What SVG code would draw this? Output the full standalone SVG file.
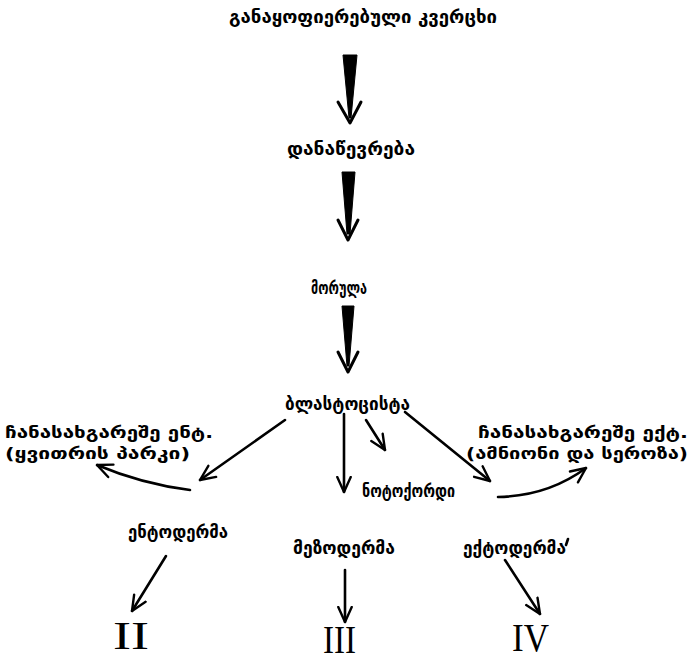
<svg xmlns="http://www.w3.org/2000/svg" width="693" height="663" viewBox="0 0 693 663">
<defs>
<style>
.t{font-family:"DejaVu Sans","Noto Sans",sans-serif;font-weight:bold;font-size:17px;fill:#000}
.s{font-size:16px}
.r{font-family:"Liberation Serif","Times New Roman",serif;font-size:40px;fill:#000}
.c{fill:none;stroke:#000;stroke-width:2.6;stroke-linecap:round}
.w{fill:#000;stroke:#000;stroke-width:1}
.v{fill:none;stroke:#000;stroke-width:3;stroke-linecap:round;stroke-linejoin:round}
</style>
<marker id="b" viewBox="0 0 12 12" refX="11" refY="6" markerWidth="18" markerHeight="18" orient="auto" markerUnits="userSpaceOnUse">
<path d="M1,1.5 L11,6 L1,10.5" fill="none" stroke="#000" stroke-width="1.6" stroke-linecap="round" stroke-linejoin="round"/>
</marker>
</defs>
<rect width="693" height="663" fill="#fff"/>

<g id="egg"><text class="t" x="229" y="23" textLength="268" lengthAdjust="spacingAndGlyphs">განაყოფიერებული კვერცხი</text></g>
<g id="cleavage"><text class="t" x="287" y="155" textLength="128" lengthAdjust="spacingAndGlyphs">დანაწევრება</text></g>
<g id="morula"><text class="t" x="311" y="294" textLength="56" lengthAdjust="spacingAndGlyphs">მორულა</text></g>
<g id="blastocyst"><text class="t" x="285" y="410" textLength="125" lengthAdjust="spacingAndGlyphs">ბლასტოცისტა</text></g>
<g id="extra-ent">
<text class="t s" x="5" y="438" textLength="208" lengthAdjust="spacingAndGlyphs">ჩანასახგარეშე ენტ.</text>
<text class="t s" x="5" y="459" textLength="185" lengthAdjust="spacingAndGlyphs">(ყვითრის პარკი)</text>
</g>
<g id="extra-ect">
<text class="t s" x="478" y="438" textLength="210" lengthAdjust="spacingAndGlyphs">ჩანასახგარეშე ექტ.</text>
<text class="t s" x="466" y="459" textLength="222" lengthAdjust="spacingAndGlyphs">(ამნიონი და სეროზა)</text>
</g>
<g id="notochord"><text class="t" x="362" y="497" textLength="93" lengthAdjust="spacingAndGlyphs">ნოტოქორდი</text></g>
<g id="endoderm"><text class="t" x="128" y="538" textLength="100" lengthAdjust="spacingAndGlyphs">ენტოდერმა</text></g>
<g id="mesoderm"><text class="t" x="293" y="554" textLength="102" lengthAdjust="spacingAndGlyphs">მეზოდერმა</text></g>
<g id="ectoderm"><text class="t" x="463" y="554" textLength="103" lengthAdjust="spacingAndGlyphs">ექტოდერმა</text><path d="M568,539 L566,545" class="c" stroke-width="1.5"/></g>
<g id="II"><text class="r" x="113" y="649" textLength="36" lengthAdjust="spacingAndGlyphs">II</text></g>
<g id="III"><text class="r" x="323" y="653" textLength="33" lengthAdjust="spacingAndGlyphs">III</text></g>
<g id="IV"><text class="r" x="512" y="651" textLength="37" lengthAdjust="spacingAndGlyphs">IV</text></g>

<g id="connectors">
<polygon class="w" points="343,55 357,55 351,118 349,118"/>
<path class="v" d="M338,102 L350,123 L361,102"/>
<polygon class="w" points="342,172 355,172 350,234 347,234"/>
<path class="v" d="M338,220 L348,240 L358,220"/>
<polygon class="w" points="342,306 354,306 349,366 347,366"/>
<path class="v" d="M338,352 L348,372 L358,352"/>
<path class="c" d="M285,420 L200,480" marker-end="url(#b)"/>
<path class="c" d="M344,414 L344,492" marker-end="url(#b)"/>
<path class="c" d="M366,420 L385,450" marker-end="url(#b)"/>
<path class="c" d="M405,412 L490,481" marker-end="url(#b)"/>
<path class="c" d="M190,490 Q142,484 97,465" marker-end="url(#b)"/>
<path class="c" d="M498,497 Q548,496 586,468" marker-end="url(#b)"/>
<path class="c" d="M166,556 L132,611" marker-end="url(#b)"/>
<path class="c" d="M345,570 L345,622" marker-end="url(#b)"/>
<path class="c" d="M505,560 L540,614" marker-end="url(#b)"/>
</g>
</svg>
